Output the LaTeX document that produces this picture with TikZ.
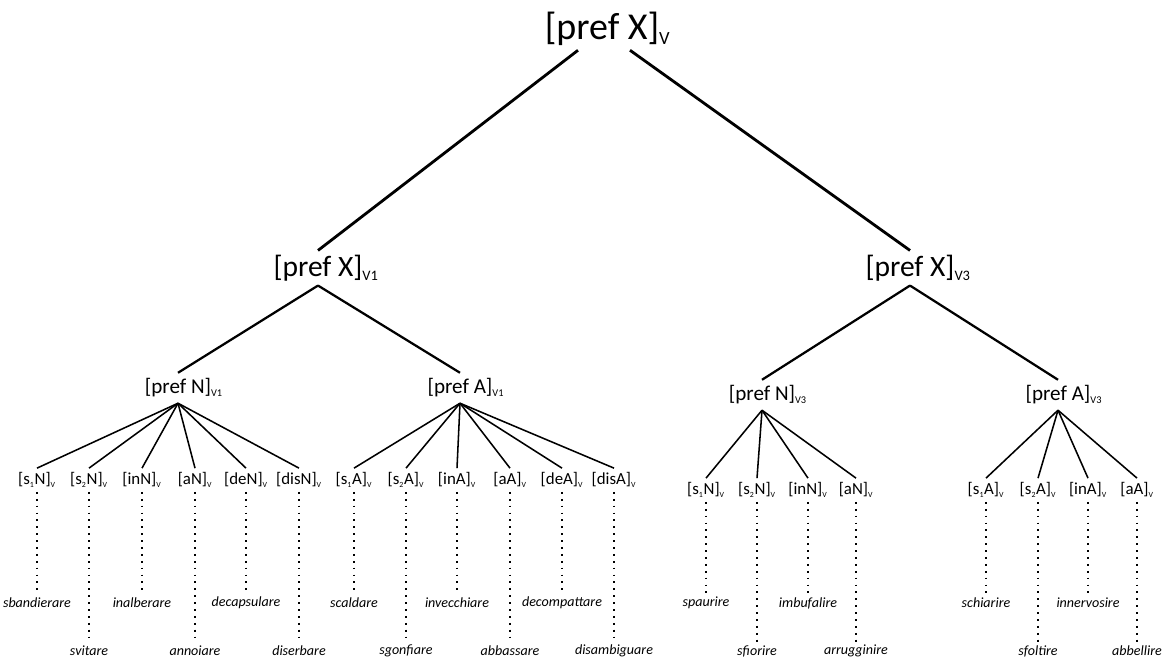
\documentclass[tikz,border=0pt]{standalone}
\usepackage{fontspec}
\setmainfont{Carlito}
\newcommand{\lowsub}[1]{\textsubscript{\scalebox{0.7}{#1}}}
\newcommand{\catsub}[1]{\rlap{\lowsub{#1}}}

\begin{document}
\begin{tikzpicture}[x=0.025cm, y=-0.025cm,
  top/.style={font=\fontsize{27}{32}\selectfont, inner sep=3pt},
  mid/.style={font=\fontsize{21}{25}\selectfont, inner sep=3pt},
  cat/.style={font=\fontsize{15}{18}\selectfont, inner sep=4pt},
  leaf/.style={font=\fontsize{12}{14}\selectfont, inner sep=3pt},
  word/.style={font=\fontsize{10}{12}\selectfont\itshape, inner sep=2pt},
  trunk/.style={line width=2pt},
  branch/.style={line width=1.6pt},
  fan/.style={line width=1.1pt},
  link/.style={line width=1.3pt, dash pattern=on 1.3pt off 3.6pt}]
  \useasboundingbox (0,0) rectangle (1168,668);

  \node[top] (rt) at (602,29) {[pref X]\catsub{V}};
  \node[mid] (x1) at (318,268) {[pref X]\catsub{V1}};
  \node[mid] (x3) at (910,268) {[pref X]\catsub{V3}};
  \node[cat] (n1) at (178,388) {[pref N]\catsub{V1}};
  \node[cat] (a1) at (460,388) {[pref A]\catsub{V1}};
  \node[cat] (n3) at (762,395) {[pref N]\catsub{V3}};
  \node[cat] (a3) at (1058,395) {[pref A]\catsub{V3}};

  \draw[trunk] ([xshift=-0.6cm]rt.south) -- (x1.north);
  \draw[trunk] ([xshift=0.7cm]rt.south) -- (x3.north);
  \draw[branch] (x1.south) -- (n1.north);
  \draw[branch] (x1.south) -- (a1.north);
  \draw[branch] (x3.south) -- (n3.north);
  \draw[branch] (x3.south) -- (a3.north);

  \node[leaf] (n1s1) at (37,480) {[s\lowsub{1}N]\lowsub{V}};
  \node[leaf] (n1s2) at (89,480) {[s\lowsub{2}N]\lowsub{V}};
  \node[leaf] (n1in) at (142,480) {[inN]\lowsub{V}};
  \node[leaf] (n1a) at (195,480) {[aN]\lowsub{V}};
  \node[leaf] (n1de) at (246,480) {[deN]\lowsub{V}};
  \node[leaf] (n1dis) at (299,480) {[disN]\lowsub{V}};
  \node[leaf] (a1s1) at (354,480) {[s\lowsub{1}A]\lowsub{V}};
  \node[leaf] (a1s2) at (406,480) {[s\lowsub{2}A]\lowsub{V}};
  \node[leaf] (a1in) at (457,480) {[inA]\lowsub{V}};
  \node[leaf] (a1a) at (510,480) {[aA]\lowsub{V}};
  \node[leaf] (a1de) at (562,480) {[deA]\lowsub{V}};
  \node[leaf] (a1dis) at (614,480) {[disA]\lowsub{V}};
  \node[leaf] (n3s1) at (706,490) {[s\lowsub{1}N]\lowsub{V}};
  \node[leaf] (n3s2) at (757,490) {[s\lowsub{2}N]\lowsub{V}};
  \node[leaf] (n3in) at (808,490) {[inN]\lowsub{V}};
  \node[leaf] (n3a) at (856,490) {[aN]\lowsub{V}};
  \node[leaf] (a3s1) at (986,490) {[s\lowsub{1}A]\lowsub{V}};
  \node[leaf] (a3s2) at (1038,490) {[s\lowsub{2}A]\lowsub{V}};
  \node[leaf] (a3in) at (1088,490) {[inA]\lowsub{V}};
  \node[leaf] (a3a) at (1137,490) {[aA]\lowsub{V}};

  \draw[fan] (n1.south) -- (n1s1.north);
  \draw[fan] (n1.south) -- (n1s2.north);
  \draw[fan] (n1.south) -- (n1in.north);
  \draw[fan] (n1.south) -- (n1a.north);
  \draw[fan] (n1.south) -- (n1de.north);
  \draw[fan] (n1.south) -- (n1dis.north);
  \draw[fan] (a1.south) -- (a1s1.north);
  \draw[fan] (a1.south) -- (a1s2.north);
  \draw[fan] (a1.south) -- (a1in.north);
  \draw[fan] (a1.south) -- (a1a.north);
  \draw[fan] (a1.south) -- (a1de.north);
  \draw[fan] (a1.south) -- (a1dis.north);
  \draw[fan] (n3.south) -- (n3s1.north);
  \draw[fan] (n3.south) -- (n3s2.north);
  \draw[fan] (n3.south) -- (n3in.north);
  \draw[fan] (n3.south) -- (n3a.north);
  \draw[fan] (a3.south) -- (a3s1.north);
  \draw[fan] (a3.south) -- (a3s2.north);
  \draw[fan] (a3.south) -- (a3in.north);
  \draw[fan] (a3.south) -- (a3a.north);

  \node[word] (sbandierare) at (37,603) {sbandierare};
  \node[word] (svitare) at (89,651) {svitare};
  \node[word] (inalberare) at (142,603) {inalberare};
  \node[word] (annoiare) at (195,651) {annoiare};
  \node[word] (decapsulare) at (246,603) {decapsulare};
  \node[word] (diserbare) at (299,651) {diserbare};
  \node[word] (scaldare) at (354,603) {scaldare};
  \node[word] (sgonfiare) at (406,651) {sgonfiare};
  \node[word] (invecchiare) at (457,603) {invecchiare};
  \node[word] (abbassare) at (510,651) {abbassare};
  \node[word] (decompattare) at (562,603) {decompattare};
  \node[word] (disambiguare) at (614,651) {disambiguare};
  \node[word] (spaurire) at (706,603) {spaurire};
  \node[word] (sfiorire) at (757,651) {sfiorire};
  \node[word] (imbufalire) at (808,603) {imbufalire};
  \node[word] (arrugginire) at (856,651) {arrugginire};
  \node[word] (schiarire) at (986,603) {schiarire};
  \node[word] (sfoltire) at (1038,651) {sfoltire};
  \node[word] (innervosire) at (1088,603) {innervosire};
  \node[word] (abbellire) at (1137,651) {abbellire};

  \draw[link] (n1s1) -- (sbandierare);
  \draw[link] (n1s2) -- (svitare);
  \draw[link] (n1in) -- (inalberare);
  \draw[link] (n1a) -- (annoiare);
  \draw[link] (n1de) -- (decapsulare);
  \draw[link] (n1dis) -- (diserbare);
  \draw[link] (a1s1) -- (scaldare);
  \draw[link] (a1s2) -- (sgonfiare);
  \draw[link] (a1in) -- (invecchiare);
  \draw[link] (a1a) -- (abbassare);
  \draw[link] (a1de) -- (decompattare);
  \draw[link] (a1dis) -- (disambiguare);
  \draw[link] (n3s1) -- (spaurire);
  \draw[link] (n3s2) -- (sfiorire);
  \draw[link] (n3in) -- (imbufalire);
  \draw[link] (n3a) -- (arrugginire);
  \draw[link] (a3s1) -- (schiarire);
  \draw[link] (a3s2) -- (sfoltire);
  \draw[link] (a3in) -- (innervosire);
  \draw[link] (a3a) -- (abbellire);
\end{tikzpicture}
\end{document}
